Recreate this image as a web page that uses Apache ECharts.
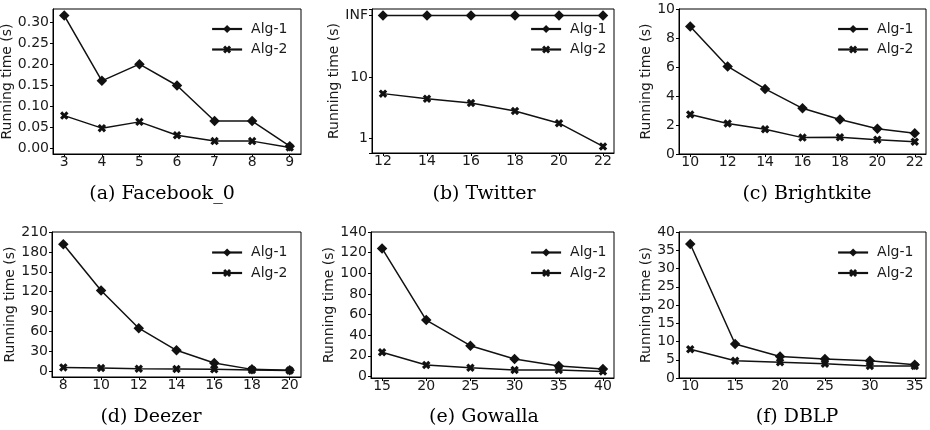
<!DOCTYPE html>
<html><head><meta charset="utf-8">
<script src="https://cdn.jsdelivr.net/npm/echarts@6/dist/echarts.min.js"></script>
<style>html,body{margin:0;padding:0;background:#fff}#c{width:930px;height:430px}</style>
</head><body><div id="c"></div>
<script>
// ---- data ----
const seriesNames = ['Alg-1', 'Alg-2'];

const aX = [3, 4, 5, 6, 7, 8, 9];
const aAlg1 = [0.317, 0.161, 0.201, 0.150, 0.065, 0.065, 0.005];
const aAlg2 = [0.078, 0.048, 0.063, 0.031, 0.017, 0.017, 0.002];
const aXTicks = [3, 4, 5, 6, 7, 8, 9];
const aYTicks = [0, 0.05, 0.10, 0.15, 0.20, 0.25, 0.30];

const bX = [12, 14, 16, 18, 20, 22];
const bAlg1 = [100, 100, 100, 100, 100, 100]; // plotted at the "INF" tick
const bAlg2 = [5.4, 4.47, 3.8, 2.83, 1.79, 0.75];
const bXTicks = [12, 14, 16, 18, 20, 22];
const bYTickLabels = { 1: '1', 10: '10', 100: 'INF' };

const cX = [10, 12, 14, 16, 18, 20, 22];
const cAlg1 = [8.79, 6.04, 4.49, 3.15, 2.38, 1.74, 1.43];
const cAlg2 = [2.73, 2.10, 1.71, 1.13, 1.15, 0.99, 0.85];
const cXTicks = [10, 12, 14, 16, 18, 20, 22];
const cYTicks = [0, 2, 4, 6, 8, 10];

const dX = [8, 10, 12, 14, 16, 18, 20];
const dAlg1 = [191.4, 121.9, 65, 31.7, 12.7, 3, 1.5];
const dAlg2 = [6, 5, 4, 3.5, 3, 2.2, 1.3];
const dXTicks = [8, 10, 12, 14, 16, 18, 20];
const dYTicks = [0, 30, 60, 90, 120, 150, 180, 210];

const eX = [15, 20, 25, 30, 35, 40];
const eAlg1 = [124.1, 54.6, 29.8, 17, 10.2, 7.2];
const eAlg2 = [23.5, 11.1, 8.5, 6.3, 6.2, 4.9];
const eXTicks = [15, 20, 25, 30, 35, 40];
const eYTicks = [0, 20, 40, 60, 80, 100, 120, 140];

const fX = [10, 15, 20, 25, 30, 35];
const fAlg1 = [36.7, 9.3, 5.9, 5.2, 4.7, 3.6];
const fAlg2 = [7.9, 4.7, 4.3, 3.9, 3.3, 3.3];
const fXTicks = [10, 15, 20, 25, 30, 35];
const fYTicks = [0, 5, 10, 15, 20, 25, 30, 35, 40];

const titles = ['(a) Facebook_0', '(b) Twitter', '(c) Brightkite', '(d) Deezer', '(e) Gowalla', '(f) DBLP'];
const yName = 'Running time (s)';

// ---- layout / styling ----
const FONT = 'DejaVu Sans';
const INK = '#111';
const TXT = '#1a1a1a';
const FS = 14;

const panels = [
  { x: aX, s1: aAlg1, s2: aAlg2, xt: aXTicks, yt: aYTicks, yfmt: v => v.toFixed(2),
    grid: { left: 53, top: 9, width: 248, height: 145 }, xr: [2.7, 9.3], yr: [-0.0138, 0.3328],
    nameGap: 33, lg: [211, 22], tt: [162, 194] },
  { x: bX, s1: bAlg1, s2: bAlg2, xt: bXTicks, log: true,
    grid: { left: 372, top: 9, width: 242, height: 144 }, xr: [11.5, 22.5], yr: [0.587, 127.7],
    nameGap: 25, lg: [530, 22], tt: [484, 194] },
  { x: cX, s1: cAlg1, s2: cAlg2, xt: cXTicks, yt: cYTicks, yfmt: v => String(v),
    grid: { left: 679, top: 9, width: 247, height: 145 }, xr: [9.4, 22.6], yr: [0, 10],
    nameGap: 19, lg: [837, 22], tt: [807, 194] },
  { x: dX, s1: dAlg1, s2: dAlg2, xt: dXTicks, yt: dYTicks, yfmt: v => String(v),
    grid: { left: 52, top: 232, width: 249, height: 145 }, xr: [7.4, 20.6], yr: [-8.5, 210],
    nameGap: 29, lg: [211, 245.5], tt: [151, 417] },
  { x: eX, s1: eAlg1, s2: eAlg2, xt: eXTicks, yt: eYTicks, yfmt: v => String(v),
    grid: { left: 371, top: 232, width: 243, height: 146 }, xr: [13.75, 41.25], yr: [-1.5, 140],
    nameGap: 28, lg: [530, 245.5], tt: [484, 417] },
  { x: fX, s1: fAlg1, s2: fAlg2, xt: fXTicks, yt: fYTicks, yfmt: v => String(v),
    grid: { left: 679, top: 232, width: 247, height: 146 }, xr: [8.75, 36.25], yr: [0, 40],
    nameGap: 20, lg: [837, 245.5], tt: [797, 417] }
];

const XSYM = 'path://M0,2.6 L2.6,0 L5,2.4 L7.4,0 L10,2.6 L7.6,5 L10,7.4 L7.4,10 L5,7.6 L2.6,10 L0,7.4 L2.4,5 Z';

const grid = [], xAxis = [], yAxis = [], series = [], legend = [], graphic = [];
const lineCol = { color: '#000', width: 1 };

panels.forEach((p, i) => {
  grid.push(Object.assign({ show: true, borderColor: '#000', borderWidth: 1, backgroundColor: 'transparent',
    containLabel: false, outerBoundsMode: 'none' }, p.grid));
  xAxis.push({
    type: 'value', gridIndex: i, min: p.xr[0], max: p.xr[1],
    axisLine: { show: true, onZero: false, lineStyle: lineCol },
    axisTick: { show: true, length: 3, customValues: p.xt, lineStyle: lineCol },
    axisLabel: { customValues: p.xt, margin: 1, fontSize: FS, color: TXT, fontFamily: FONT,
      formatter: v => String(v) },
    splitLine: { show: false }
  });
  if (p.log) {
    yAxis.push({
      type: 'log', logBase: 10, gridIndex: i, min: p.yr[0], max: p.yr[1],
      name: yName, nameLocation: 'middle', nameGap: p.nameGap,
      nameTextStyle: { fontSize: FS, color: TXT, fontFamily: FONT },
      axisLine: { show: true, onZero: false, lineStyle: lineCol },
      axisTick: { show: true, length: 3, lineStyle: lineCol },
      axisLabel: { margin: 4, fontSize: FS, color: TXT, fontFamily: FONT, showMinLabel: true, showMaxLabel: true,
        formatter: v => { for (const k in bYTickLabels) { if (Math.abs(v - Number(k)) < 1e-6 * Number(k)) return bYTickLabels[k]; } return ''; } },
      splitLine: { show: false }, minorTick: { show: false }
    });
  } else {
    yAxis.push({
      type: 'value', gridIndex: i, min: p.yr[0], max: p.yr[1],
      name: yName, nameLocation: 'middle', nameGap: p.nameGap,
      nameTextStyle: { fontSize: FS, color: TXT, fontFamily: FONT },
      axisLine: { show: true, onZero: false, lineStyle: lineCol },
      axisTick: { show: true, length: 3, customValues: p.yt, lineStyle: lineCol },
      axisLabel: { customValues: p.yt, margin: 4, fontSize: FS, color: TXT, fontFamily: FONT, formatter: p.yfmt },
      splitLine: { show: false }
    });
  }
  [[p.s1, 'diamond', 10.5], [p.s2, XSYM, 8.5]].forEach((s, k) => {
    series.push({
      type: 'line', name: seriesNames[k], xAxisIndex: i, yAxisIndex: i,
      data: p.x.map((xv, j) => [xv, s[0][j]]),
      symbol: s[1], symbolSize: s[2], showAllSymbol: true, clip: false,
      lineStyle: { color: INK, width: 1.5 }, itemStyle: { color: INK, borderWidth: 0 },
      emphasis: { disabled: true }, z: 3 + k
    });
  });
  legend.push({
    data: seriesNames, orient: 'vertical', left: p.lg[0], top: p.lg[1],
    itemWidth: 30, itemHeight: 10, itemGap: 6.5, selectedMode: false, padding: 0,
    lineStyle: { width: 2.2 },
    textStyle: { fontSize: FS, color: TXT, fontFamily: FONT, padding: [0, 0, 0, 4] }
  });
  graphic.push({
    type: 'text', x: p.tt[0], y: p.tt[1],
    style: { text: titles[i], fontFamily: 'DejaVu Serif', fontSize: 19, fill: '#000',
      align: 'center', verticalAlign: 'middle', textAlign: 'center', textVerticalAlign: 'middle' }
  });
});

const chart = echarts.init(document.getElementById('c'), null, { renderer: 'canvas' });
chart.setOption({
  backgroundColor: '#fff', animation: false,
  grid, xAxis, yAxis, series, legend, graphic
});
</script>
</body></html>
